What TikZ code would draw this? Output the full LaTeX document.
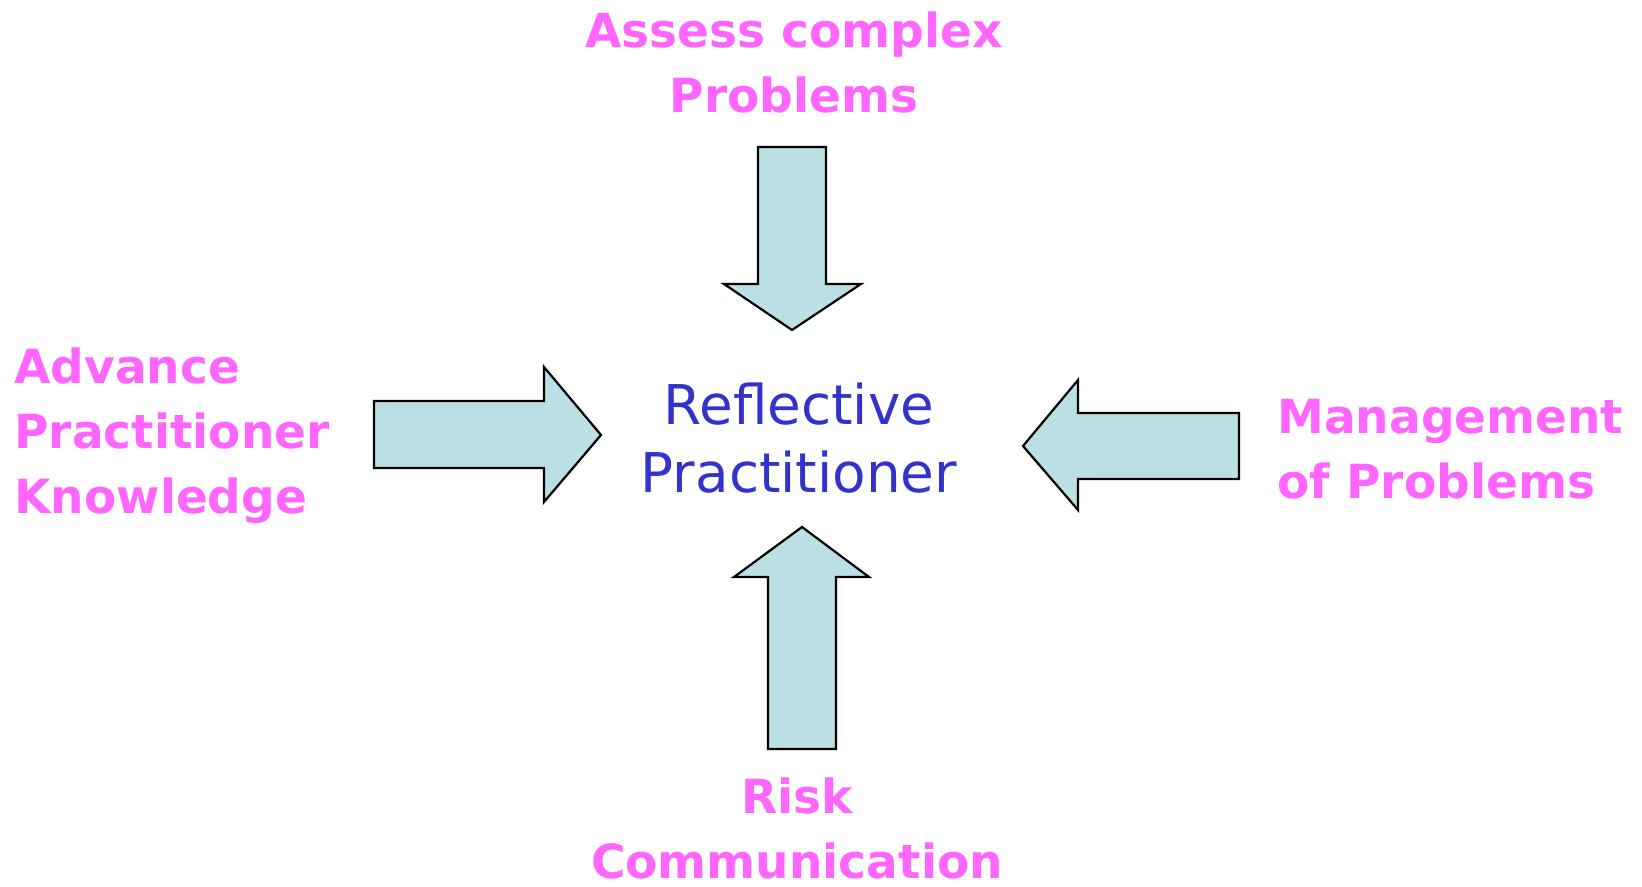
\documentclass[tikz,border=0pt]{standalone}
\usepackage{fontspec}
\setmainfont{DejaVu Sans}
\usepackage{tikz}

\definecolor{labelpink}{HTML}{FF66FF}
\definecolor{centreblue}{HTML}{3333CC}
\definecolor{arrowfill}{HTML}{BBE0E3}

\begin{document}
\begin{tikzpicture}[x=0.5pt, y=-0.5pt,
    blockarrow/.style={draw=black, line width=1.1pt, fill=arrowfill, line join=miter},
    pinklabel/.style={inner sep=0pt, text=labelpink, font=\fontsize{23.5}{32.5}\selectfont\bfseries},
    centrelabel/.style={inner sep=0pt, text=centreblue, font=\fontsize{27.4}{34}\selectfont}]
    \useasboundingbox (0,0) rectangle (1642,887);

    % arrows
    \draw[blockarrow] (758,147) -- (826,147) -- (826,284) -- (861,284) -- (792,330)
        -- (724,284) -- (758,284) -- cycle;
    \draw[blockarrow] (374,401) -- (544,401) -- (544,367) -- (601,435) -- (544,502)
        -- (544,468) -- (374,468) -- cycle;
    \draw[blockarrow] (1239,413) -- (1078,413) -- (1078,380) -- (1023,446) -- (1078,510)
        -- (1078,479) -- (1239,479) -- cycle;
    \draw[blockarrow] (768,749) -- (768,577) -- (734,577) -- (802,527) -- (869,577)
        -- (836,577) -- (836,749) -- cycle;

    % labels (base = last line)
    \node[centrelabel, align=center, anchor=base] (centre) at (799,492) {Reflective\\Practitioner};
    \node[pinklabel, align=center, anchor=base] (assess) at (794,113) {Assess complex\\Problems};
    \node[pinklabel, align=left, anchor=base west] (advance) at (14,513) {Advance\\Practitioner\\Knowledge};
    \node[pinklabel, align=left, anchor=base west] (manage) at (1277,498) {Management\\of Problems};
    \node[pinklabel, align=center, anchor=base] (risk) at (797,878) {Risk\\Communication};
\end{tikzpicture}
\end{document}
